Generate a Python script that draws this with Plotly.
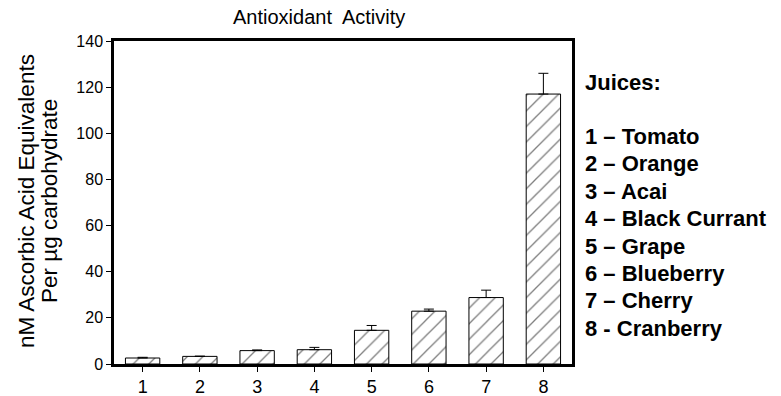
import plotly.graph_objects as go

categories = [1, 2, 3, 4, 5, 6, 7, 8]
values = [2.6, 3.3, 5.8, 6.2, 14.6, 22.9, 28.8, 117.0]
errors = [0.3, 0.1, 0.3, 1.0, 2.1, 0.9, 3.2, 9.0]
y_ticks = [0, 20, 40, 60, 80, 100, 120, 140]
legend_title = "Juices:"
juices = ["1 – Tomato", "2 – Orange", "3 – Acai", "4 – Black Currant",
          "5 – Grape", "6 – Blueberry", "7 – Cherry", "8 - Cranberry"]
y_title_lines = ["nM Ascorbic Acid Equivalents", "Per µg carbohydrate"]
chart_title = "Antioxidant\u00a0 Activity"

FONT = "Arial, Liberation Sans, sans-serif"
W, H = 781, 396
L, R, T, B = 114, 209, 41, 32
PH = H - T - B

def py(pix):
    # pixel row -> paper y
    return (H - B - pix) / PH

def px(pix):
    return (pix - L) / (W - L - R)

fig = go.Figure()
fig.add_trace(go.Bar(
    x=categories, y=values,
    width=0.6,
    marker=dict(color="white", line=dict(color="black", width=1),
                pattern=dict(shape="/", fgcolor="black", bgcolor="white",
                             size=11, solidity=0.12)),
    error_y=dict(type="data", array=errors, arrayminus=[0] * len(errors),
                 symmetric=False, color="black", thickness=1, width=5),
    showlegend=False,
))

fig.update_layout(
    width=W, height=H,
    margin=dict(l=L, r=R, t=T, b=B, autoexpand=False),
    plot_bgcolor="white", paper_bgcolor="white",
    font=dict(family=FONT, color="black", size=16),
)
fig.update_xaxes(range=[0.5, 8.5], tickvals=categories,
                 ticktext=[str(c) for c in categories],
                 showline=True, linecolor="black", linewidth=2.5, mirror=True,
                 ticks="outside", ticklen=5, tickcolor="black", tickwidth=1,
                 showgrid=False, zeroline=False, tickfont=dict(size=18),
                 automargin=False)
fig.update_yaxes(range=[0, 140], tickvals=y_ticks,
                 showline=True, linecolor="black", linewidth=2.5, mirror=True,
                 ticks="outside", ticklen=5, tickcolor="black", tickwidth=1,
                 showgrid=False, zeroline=False, tickfont=dict(size=16),
                 automargin=False)

# title
fig.add_annotation(text=chart_title, xref="paper", yref="paper",
                   x=px(319), y=py(17), xanchor="center", yanchor="middle",
                   showarrow=False, font=dict(size=20, family=FONT))

# y-axis title (two rotated lines)
for xpix, line in zip([27, 50], y_title_lines):
    fig.add_annotation(text=line, xref="paper", yref="paper",
                       x=px(xpix), y=py(201), xanchor="center", yanchor="middle",
                       textangle=-90, showarrow=False,
                       font=dict(size=22.5, family=FONT))

# juices legend text
fig.add_annotation(text="<b>" + legend_title + "</b>", xref="paper", yref="paper",
                   x=px(583), y=py(82), xanchor="left", yanchor="middle",
                   showarrow=False, font=dict(size=22, family=FONT))
for i, j in enumerate(juices):
    fig.add_annotation(text="<b>" + j + "</b>", xref="paper", yref="paper",
                       x=px(583), y=py(136.5 + i * 27.4), xanchor="left",
                       yanchor="middle", showarrow=False,
                       font=dict(size=22, family=FONT))

fig.write_html("out.html", config={"displayModeBar": False},
               post_script="document.body.style.margin='0';document.body.style.padding='0';")
